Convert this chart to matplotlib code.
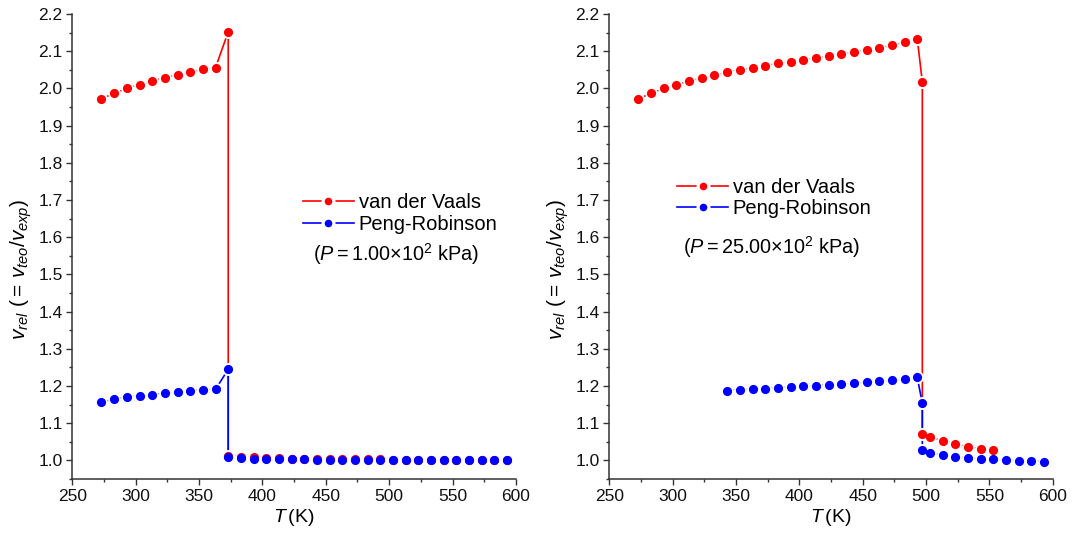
import matplotlib
matplotlib.use("Agg")
import matplotlib.pyplot as plt
from matplotlib.lines import Line2D
from matplotlib.ticker import MultipleLocator, FormatStrFormatter

plt.rcParams['font.family'] = ['Liberation Sans', 'DejaVu Sans']
plt.rcParams['mathtext.fontset'] = 'custom'
plt.rcParams['mathtext.rm'] = 'Liberation Sans'
plt.rcParams['mathtext.it'] = 'Liberation Sans:italic'

# P = 1.00x10^2 kPa
T_left = [273, 283, 293, 303, 313, 323, 333, 343, 353, 363, 373,
          373, 383, 393, 403, 413, 423, 433, 443, 453, 463, 473, 483,
          493, 503, 513, 523, 533, 543, 553, 563, 573, 583, 593]
vdw_left = [1.972, 1.987, 2.000, 2.010, 2.020, 2.029, 2.036, 2.044, 2.051, 2.056, 2.152,
            1.012, 1.010, 1.008, 1.007, 1.006, 1.005, 1.005, 1.004, 1.004, 1.003, 1.003, 1.003,
            1.003, 1.002, 1.002, 1.002, 1.002, 1.002, 1.001, 1.001, 1.001, 1.001, 1.001]
pr_left = [1.157, 1.164, 1.170, 1.173, 1.177, 1.181, 1.183, 1.187, 1.190, 1.191, 1.245,
           1.009, 1.006, 1.004, 1.003, 1.003, 1.003, 1.003, 1.002, 1.002, 1.002, 1.001, 1.001,
           1.001, 1.001, 1.001, 1.000, 1.000, 1.000, 1.000, 1.000, 1.000, 1.000, 1.000]

# P = 25.00x10^2 kPa
T_vdw_right = [273, 283, 293, 303, 313, 323, 333, 343, 353, 363, 373, 383, 393, 403, 413,
               423, 433, 443, 453, 463, 473, 483, 493, 497, 497, 503, 513, 523, 533, 543, 553]
vdw_right = [1.972, 1.987, 2.000, 2.010, 2.019, 2.028, 2.035, 2.043, 2.050, 2.054, 2.061,
             2.067, 2.071, 2.077, 2.081, 2.087, 2.092, 2.098, 2.103, 2.108, 2.116, 2.124,
             2.134, 2.017, 1.070, 1.063, 1.052, 1.043, 1.037, 1.031, 1.027]
T_pr_right = [343, 353, 363, 373, 383, 393, 403, 413, 423, 433, 443, 453, 463, 473, 483, 493,
              497, 497, 503, 513, 523, 533, 543, 553, 563, 573, 583, 593]
pr_right = [1.187, 1.190, 1.191, 1.192, 1.195, 1.197, 1.199, 1.201, 1.203, 1.205, 1.207,
            1.210, 1.213, 1.215, 1.218, 1.223, 1.154, 1.027, 1.021, 1.014, 1.010, 1.006,
            1.004, 1.003, 1.000, 0.999, 0.998, 0.997]

RED = '#ff0000'
BLUE = '#0000ff'

fig = plt.figure(figsize=(10.75, 5.41), dpi=100)
ax1 = fig.add_axes([0.0673, 0.1146, 0.4126, 0.8595])
ax2 = fig.add_axes([0.5668, 0.1146, 0.4126, 0.8595])


def draw_series(ax, T, v, color, z):
    ax.plot(T, v, color=color, lw=1.2, zorder=2)
    # white discs leave a small gap in the line round each point
    ax.plot(T, v, ls='none', marker='o', ms=9.3, mfc='white', mec='none', zorder=3)
    ax.plot(T, v, ls='none', marker='o', ms=6.6, mfc=color, mec='none', zorder=z)


def style_axes(ax):
    ax.set_xlim(250, 600)
    ax.set_ylim(0.95, 2.2)
    ax.xaxis.set_major_locator(MultipleLocator(50))
    ax.xaxis.set_minor_locator(MultipleLocator(25))
    ax.yaxis.set_major_locator(MultipleLocator(0.1))
    ax.yaxis.set_minor_locator(MultipleLocator(0.05))
    ax.yaxis.set_major_formatter(FormatStrFormatter('%.1f'))
    ax.spines['top'].set_visible(False)
    ax.spines['right'].set_visible(False)
    for s in ('left', 'bottom'):
        ax.spines[s].set_color('#333333')
        ax.spines[s].set_linewidth(1.1)
    ax.tick_params(which='major', direction='out', length=4, width=1, color='#333333',
                   labelsize=12.5, labelcolor='#111111', pad=3)
    ax.tick_params(which='minor', direction='out', length=2.5, width=1, color='#333333')
    ax.set_xlabel(r'$T\,$(K)', fontsize=14, labelpad=2)
    ax.set_ylabel(r'$v_{rel}\ (=\,v_{teo}/v_{exp})$', fontsize=15)
    ax.yaxis.set_label_coords(-0.087, 0.45)


draw_series(ax1, T_left, vdw_left, RED, 4)
draw_series(ax1, T_left, pr_left, BLUE, 5)
draw_series(ax2, T_vdw_right, vdw_right, RED, 4)
draw_series(ax2, T_pr_right, pr_right, BLUE, 5)

for ax in (ax1, ax2):
    style_axes(ax)

handles = [
    Line2D([0], [0], color=RED, lw=1.2, marker='o', ms=7.8, mfc=RED, mec='white', mew=2.3),
    Line2D([0], [0], color=BLUE, lw=1.2, marker='o', ms=7.8, mfc=BLUE, mec='white', mew=2.3),
]
labels = ['van der Vaals', 'Peng-Robinson']

ax1.legend(handles, labels, loc='upper left', bbox_to_anchor=(0.498, 0.637), frameon=False,
           fontsize=14.5, borderpad=0, handlelength=2.5, handletextpad=0.25, labelspacing=0.15)
ax1.text(0.73, 0.483, r'($P = 1.00{\times}10^{2}$ kPa)', transform=ax1.transAxes,
         ha='center', va='center', fontsize=14.3)

ax2.legend(handles, labels, loc='upper left', bbox_to_anchor=(0.131, 0.669), frameon=False,
           fontsize=14.5, borderpad=0, handlelength=2.5, handletextpad=0.25, labelspacing=0.1)
ax2.text(0.365, 0.498, r'($P = 25.00{\times}10^{2}$ kPa)', transform=ax2.transAxes,
         ha='center', va='center', fontsize=14.3)

fig.savefig('out.png', dpi=100)
